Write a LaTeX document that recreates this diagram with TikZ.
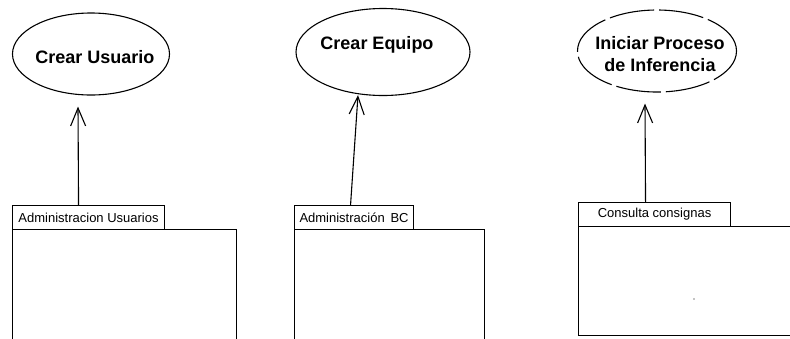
\documentclass[tikz,border=0pt]{standalone}
\usepackage{fontspec}
\setmainfont{Liberation Sans}
\usetikzlibrary{shapes.geometric,arrows.meta}
\tikzset{
  uc/.style={draw, ellipse, line width=1.1pt, inner sep=0pt},
  uctext/.style={font=\fontsize{18}{21}\selectfont\bfseries, align=center, inner sep=0pt},
  tabbox/.style={draw, rectangle, line width=1.1pt, anchor=north west, inner sep=0pt,
    font=\fontsize{13}{15}\selectfont},
  pkbody/.style={draw, rectangle, line width=1.1pt, anchor=north west, inner sep=0pt},
  dep/.style={line width=1.1pt, -{Straight Barb[length=18pt,width=15pt,line width=1.1pt]}}
}
\begin{document}
\begin{tikzpicture}[x=1pt,y=-1pt]
\clip (0,0) rectangle (790,338);
\fill[white] (0,0) rectangle (790,338);
% use cases
\node[uc, minimum width=157pt, minimum height=82pt] (u1) at (91,54) {};
\node[uctext] (t1) at (95,57) {Crear Usuario};
\node[uc, minimum width=174pt, minimum height=87pt] (u2) at (383,52) {};
\node[uctext] (t2) at (377,45) {Crear Equipo};
\node[uc, dash pattern=on 45pt off 5pt, minimum width=159pt, minimum height=82pt] (u3) at (657,51) {};
\node[uctext] (t3) at (660,54) {Iniciar Proceso\\[1pt]de Inferencia};
% packages
\node[tabbox, minimum width=152pt, minimum height=24pt] (tab1) at (12,205) {Administracion Usuarios};
\node[pkbody, minimum width=224pt, minimum height=120pt] (pk1) at (12,229) {};
\node[tabbox, minimum width=119pt, minimum height=24pt] (tab2) at (294,205) {Administración\, BC};
\node[pkbody, minimum width=190pt, minimum height=120pt] (pk2) at (294,229) {};
\node[tabbox, minimum width=152pt, minimum height=24pt] (tab3) at (578,202) {Consulta consignas};
\node[pkbody, minimum width=260pt, minimum height=109pt] (pk3) at (578,226) {};
\fill (694,299) circle (0.6pt);
% dependencies
\draw[dep] ([xshift=-10pt]tab1.north) -- ([xshift=-13pt,yshift=-11pt]u1.south);
\draw[dep] ([xshift=-3.5pt]tab2.north) -- ([xshift=-25pt,yshift=1pt]u2.south);
\draw[dep] ([xshift=-9pt]tab3.north) -- ([xshift=-12pt,yshift=-11pt]u3.south);
\end{tikzpicture}
\end{document}
